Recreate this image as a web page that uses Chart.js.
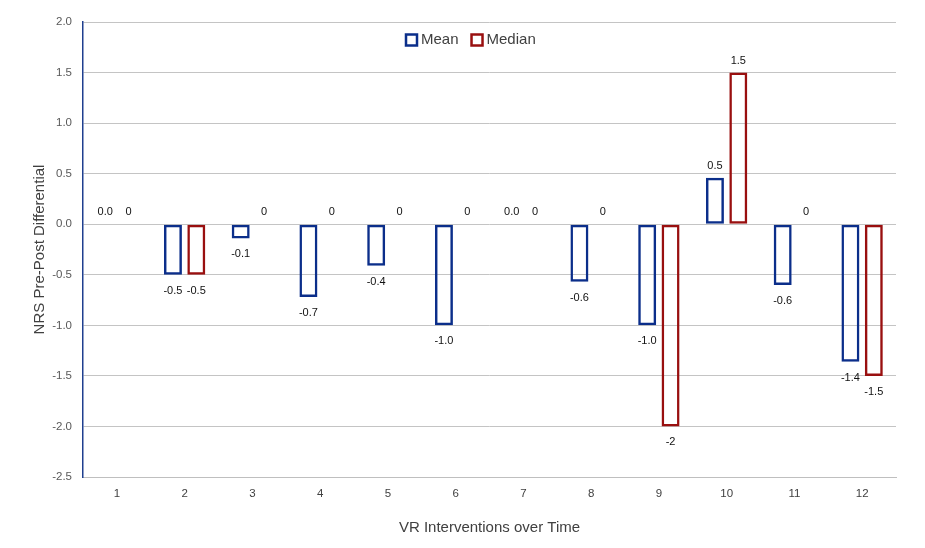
<!DOCTYPE html>
<html lang="en">
<head>
  <meta charset="UTF-8"/>
  <title>NRS Pre-Post Differential</title>
  <script src="https://cdn.jsdelivr.net/npm/chart.js"></script>
  <style>
    html, body { margin: 0; padding: 0; background: #fff; }
    #wrap { width: 925px; height: 548px; }
  </style>
</head>
<body>
  <div id="wrap"><canvas id="chart" width="925" height="548"></canvas></div>

  <script>
    const categories = ['1', '2', '3', '4', '5', '6', '7', '8', '9', '10', '11', '12']
    const meanValues = [0.0, -0.5, -0.14, -0.72, -0.41, -1.0, 0.0, -0.57, -1.0, 0.46, -0.6, -1.36]
    const medianValues = [0, -0.5, 0, 0, 0, 0, 0, 0, -2, 1.5, 0, -1.5]
    const yTicks = [2.0, 1.5, 1.0, 0.5, 0.0, -0.5, -1.0, -1.5, -2.0, -2.5]

    const blue = '#0B2E8A'
    const red = '#990F0F'
    const font = "'Liberation Sans', Arial, sans-serif"

    // value labels above/below each bar
    const valueLabels = {
      id: 'valueLabels',
      afterDatasetsDraw(chart) {
        const ctx = chart.ctx
        ctx.save()
        ctx.font = '11px ' + font
        ctx.fillStyle = '#111'
        ctx.textAlign = 'center'
        ctx.textBaseline = 'middle'
        chart.data.datasets.forEach((ds, i) => {
          chart.getDatasetMeta(i).data.forEach((bar, j) => {
            const v = ds.data[j]
            const txt = i === 0 ? v.toFixed(1) : String(v)
            const y = v < 0 ? bar.y + 16 : bar.y - 12
            ctx.fillText(txt, bar.x, y)
          })
        })
        ctx.restore()
      }
    }

    // legend drawn inside the plot, near the top
    const insideLegend = {
      id: 'insideLegend',
      afterDraw(chart) {
        const ctx = chart.ctx
        ctx.save()
        ctx.font = '15px ' + font
        ctx.textBaseline = 'middle'
        let x = 406
        const y = 40
        chart.data.datasets.forEach(ds => {
          ctx.strokeStyle = ds.borderColor
          ctx.lineWidth = 2.5
          ctx.strokeRect(x, y - 5.5, 11, 11)
          ctx.fillStyle = '#404040'
          ctx.fillText(ds.label, x + 15, y)
          x += 15 + ctx.measureText(ds.label).width + 13
        })
        ctx.restore()
      }
    }

    new Chart(document.getElementById('chart'), {
      type: 'bar',
      data: {
        labels: categories,
        datasets: [
          {
            label: 'Mean',
            data: meanValues,
            backgroundColor: 'rgba(0,0,0,0)',
            borderColor: blue,
            borderWidth: ctx => ctx.raw === 0 ? 0 : 2.5,
            borderSkipped: false
          },
          {
            label: 'Median',
            data: medianValues,
            backgroundColor: 'rgba(0,0,0,0)',
            borderColor: red,
            borderWidth: ctx => ctx.raw === 0 ? 0 : 2.5,
            borderSkipped: false
          }
        ]
      },
      options: {
        responsive: false,
        animation: false,
        devicePixelRatio: 1,
        categoryPercentage: 0.69,
        barPercentage: 0.77,
        layout: { padding: { top: 22, right: 29, left: 0, bottom: 0 } },
        plugins: {
          legend: { display: false },
          tooltip: { enabled: false }
        },
        scales: {
          x: {
            grid: { display: false },
            border: { color: '#BFBFBF', width: 1 },
            ticks: { color: '#404040', font: { size: 11.5, family: font }, padding: 2, maxRotation: 0 },
            title: {
              display: true,
              text: 'VR Interventions over Time',
              color: '#404040',
              font: { size: 15, family: font },
              padding: { top: 0, bottom: 11 }
            },
            afterFit(scale) { scale.height = 71 }
          },
          y: {
            min: -2.5,
            max: 2.0,
            afterBuildTicks(scale) { scale.ticks = yTicks.map(v => ({ value: v })) },
            grid: { color: '#C4C4C4', lineWidth: 1, drawTicks: false },
            border: { color: '#1F3F8F', width: 1.5 },
            ticks: {
              color: '#595959',
              font: { size: 11.5, family: font },
              padding: 11,
              callback: v => v.toFixed(1)
            },
            title: {
              display: true,
              text: 'NRS Pre-Post Differential',
              color: '#404040',
              font: { size: 15, family: font },
              padding: { top: 31, bottom: 0 }
            },
            afterFit(scale) { scale.width = 83 }
          }
        }
      },
      plugins: [valueLabels, insideLegend]
    })
  </script>
</body>
</html>
